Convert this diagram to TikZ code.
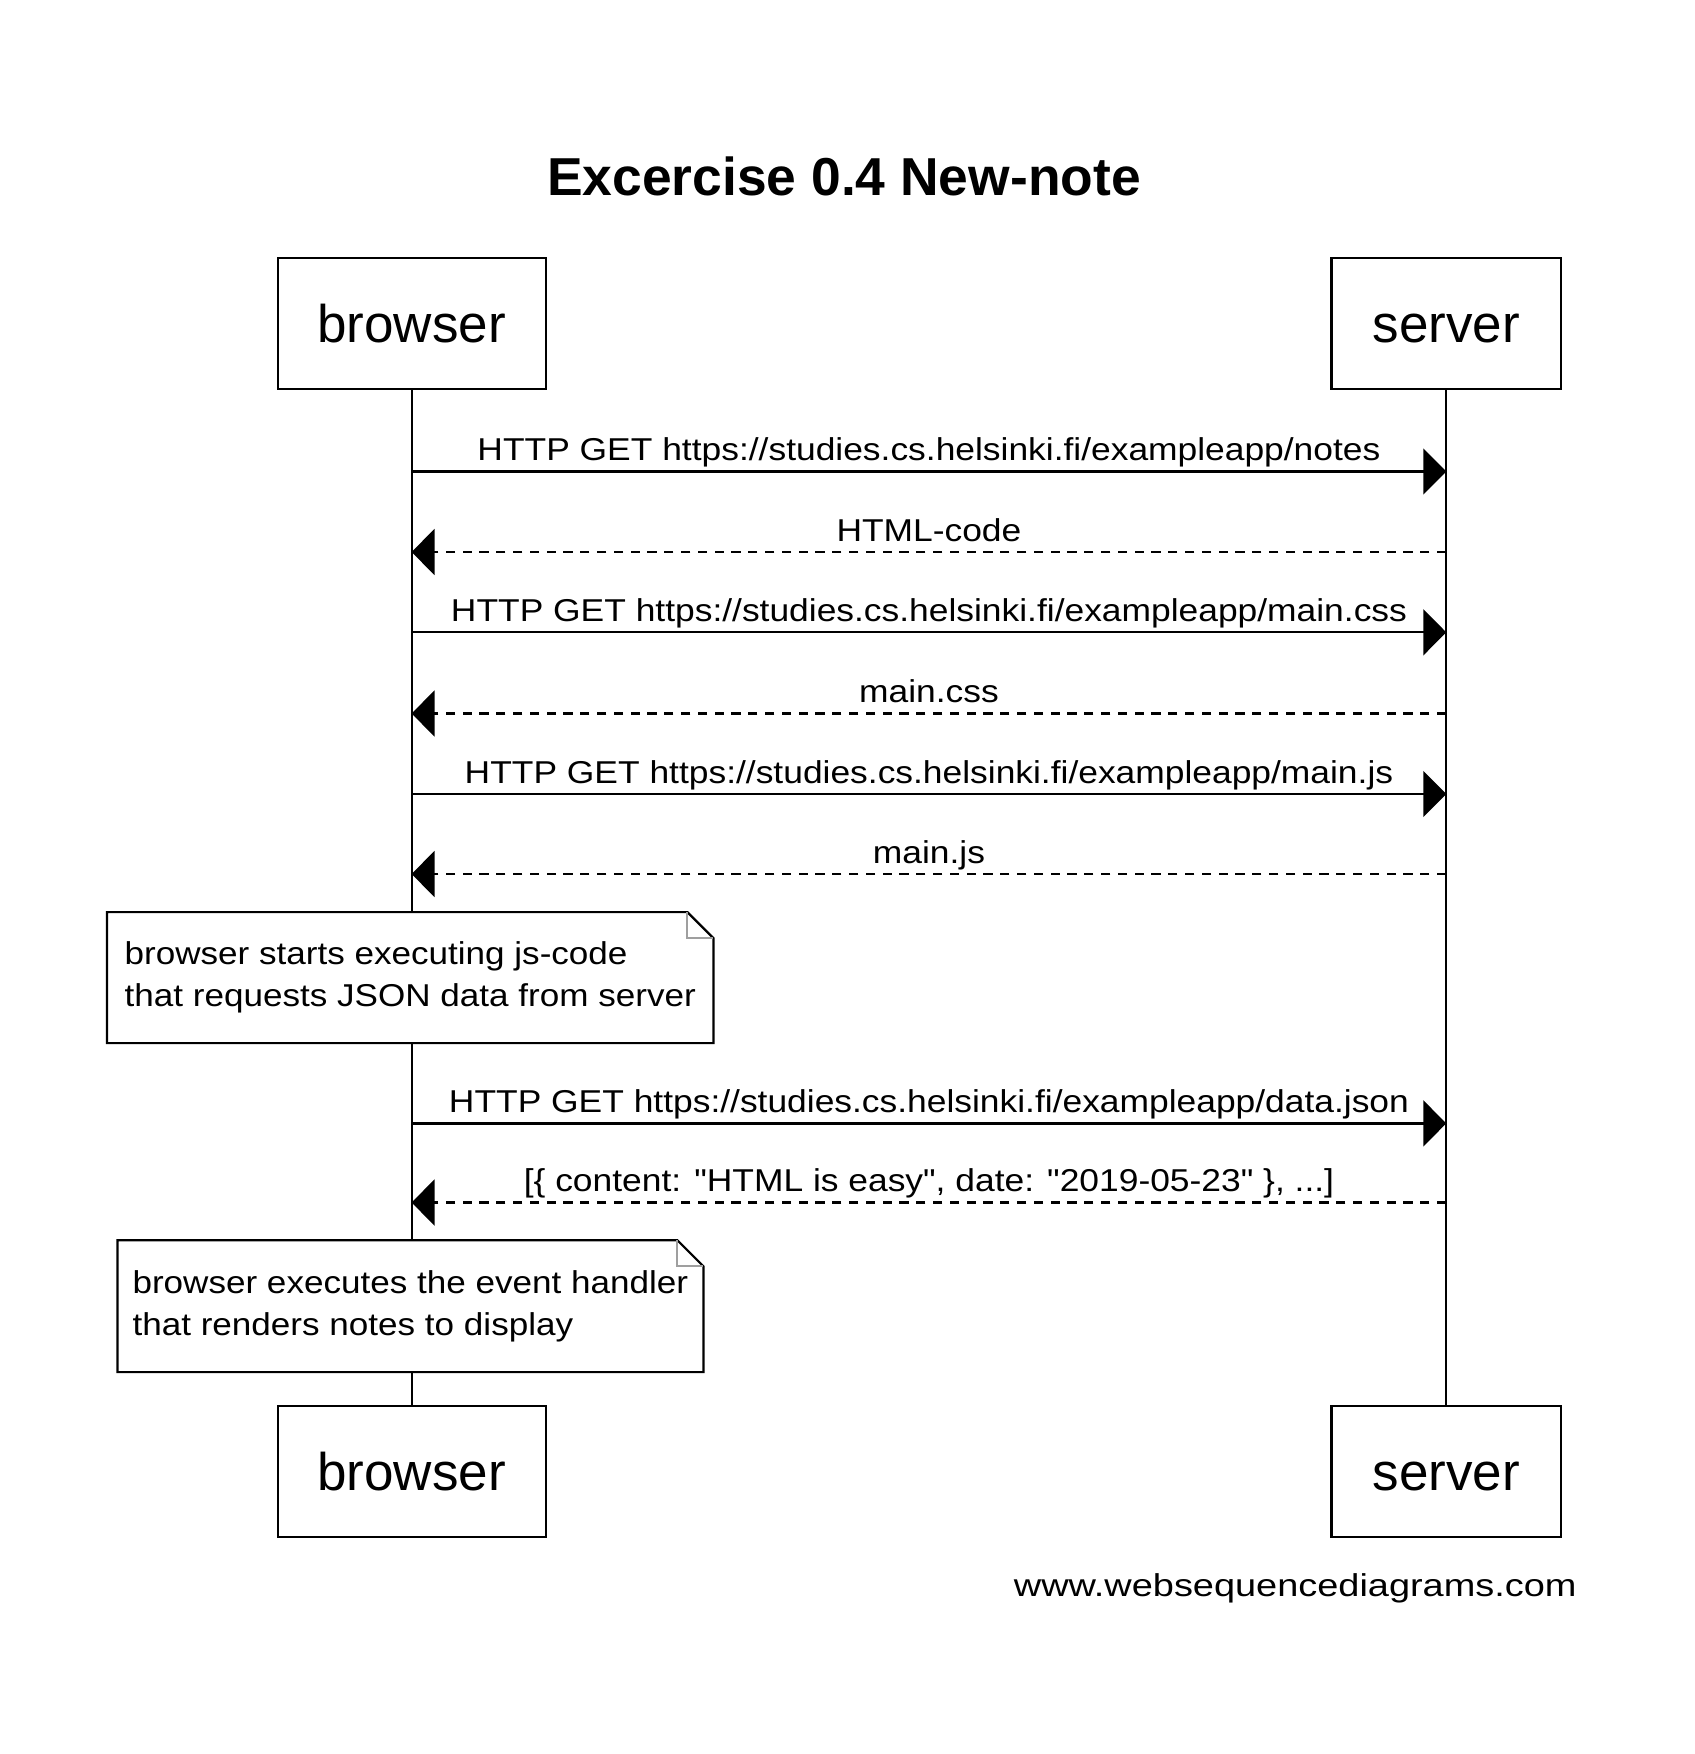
\documentclass[tikz,border=0pt]{standalone}
\usepackage{fontspec}
\setmainfont{Liberation Sans}
\newfontfamily\msgfont[FakeStretch=1.12]{Liberation Sans}
\newfontfamily\notefont[FakeStretch=1.11]{Liberation Sans}
\newfontfamily\footfont[FakeStretch=1.2]{Liberation Sans}
\usetikzlibrary{arrows.meta,calc}
\begin{document}
\begin{tikzpicture}[x={(0.5pt,0)}, y={(0,-0.5pt)},
  every node/.style={inner sep=0pt},
  actor/.style={draw, line width=1.1pt, minimum height=65.6pt, text height=19pt, text depth=0pt, font=\fontsize{26.5}{30}\selectfont},
  life/.style={line width=1.1pt},
  req/.style={line width=1.1pt, -{Triangle[length=11.5pt,width=23pt]}},
  resp/.style={req, line width=1.2pt, dash pattern=on 4.6pt off 3.8pt},
  lbl/.style={font=\msgfont\fontsize{15.8}{21}\selectfont, anchor=base, yshift=5.5pt},
  notebox/.style={fill=white, align=left, font=\notefont\fontsize{15.8}{21}\selectfont},
  noteline/.style={line width=1.1pt, line join=miter},
  fold/.style={line width=1pt, draw=gray!75},
]
\useasboundingbox (0,0) rectangle (1694,1754);

\node[font=\bfseries\fontsize{26.7}{32}\selectfont, anchor=base] (title) at (844,195.5) {Excercise 0.4 New-note};

\node[actor, minimum width=134pt] (bt) at (411.6,323.35) {browser};
\node[actor, minimum width=114.75pt] (st) at (1446.25,323.35) {server};
\node[actor, minimum width=134pt] (bb) at (411.6,1471.5) {browser};
\node[actor, minimum width=114.75pt] (sb) at (1446.25,1471.5) {server};

\draw[life] (bt) -- (bb);
\draw[life] (st) -- (sb);

\coordinate (b1) at (411.6,471.5);  \coordinate (s1) at (1446.25,471.5);
\coordinate (b2) at (411.6,552);    \coordinate (s2) at (1446.25,552);
\coordinate (b3) at (411.6,632.3);  \coordinate (s3) at (1446.25,632.3);
\coordinate (b4) at (411.6,713.5);  \coordinate (s4) at (1446.25,713.5);
\coordinate (b5) at (411.6,794);    \coordinate (s5) at (1446.25,794);
\coordinate (b6) at (411.6,874);    \coordinate (s6) at (1446.25,874);
\coordinate (b7) at (411.6,1123.4); \coordinate (s7) at (1446.25,1123.4);
\coordinate (b8) at (411.6,1202.5); \coordinate (s8) at (1446.25,1202.5);

\draw[req] (b1) -- (s1) node[lbl, midway] (l1) {HTTP GET https://studies.cs.helsinki.fi/exampleapp/notes};
\draw[resp] (s2) -- (b2) node[lbl, midway] (l2) {HTML-code};
\draw[req] (b3) -- (s3) node[lbl, midway] (l3) {HTTP GET https://studies.cs.helsinki.fi/exampleapp/main.css};
\draw[resp] (s4) -- (b4) node[lbl, midway] (l4) {main.css};
\draw[req] (b5) -- (s5) node[lbl, midway] (l5) {HTTP GET https://studies.cs.helsinki.fi/exampleapp/main.js};
\draw[resp] (s6) -- (b6) node[lbl, midway] (l6) {main.js};
\draw[req] (b7) -- (s7) node[lbl, midway] (l7) {HTTP GET https://studies.cs.helsinki.fi/exampleapp/data.json};
\draw[resp] (s8) -- (b8) node[lbl, midway] (l8) {[\{ content: "HTML is easy", date: "2019-05-23" \}, ...]};

\node[notebox, minimum width=302.8pt, minimum height=65.1pt] (n1) at (410.2,977.6) {browser starts executing js-code\\that requests JSON data from server};
\draw[noteline] (n1.north west) -- ([xshift=-13pt]n1.north east) -- ([yshift=-13pt]n1.north east) -- (n1.south east) -- (n1.south west) -- cycle;
\draw[fold] ([xshift=-13pt]n1.north east) -- ([xshift=-13pt,yshift=-13pt]n1.north east) -- ([yshift=-13pt]n1.north east);

\node[notebox, minimum width=292.6pt, minimum height=65.5pt] (n2) at (410.4,1306.2) {browser executes the event handler\\that renders notes to display};
\draw[noteline] (n2.north west) -- ([xshift=-13pt]n2.north east) -- ([yshift=-13pt]n2.north east) -- (n2.south east) -- (n2.south west) -- cycle;
\draw[fold] ([xshift=-13pt]n2.north east) -- ([xshift=-13pt,yshift=-13pt]n2.north east) -- ([yshift=-13pt]n2.north east);

\node[font=\footfont\fontsize{15.8}{21}\selectfont, anchor=base east] (foot) at (1577,1596) {www.websequencediagrams.com};
\end{tikzpicture}
\end{document}
